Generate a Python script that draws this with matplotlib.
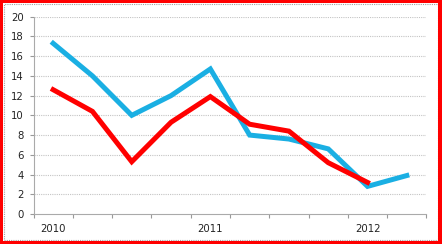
import numpy as np
import matplotlib.pyplot as plt
from matplotlib.patches import Rectangle

# quarterly values
blue_vals = [17.3, 14.0, 10.0, 12.0, 14.7, 8.0, 7.6, 6.6, 2.8, 3.9]
red_vals = [12.6, 10.4, 5.3, 9.3, 11.9, 9.1, 8.4, 5.2, 3.2]
year_labels = ["2010", "2011", "2012"]
year_pos = [0, 4, 8]
yticks = list(range(0, 21, 2))

W, H = 442, 244
fig = plt.figure(figsize=(W/100, H/100), dpi=100)
ax = fig.add_axes([33.5/W, 30/H, 393/W, 197.3/H])

ax.plot(range(len(blue_vals)), blue_vals, color="#1AAFE3", lw=3.6, solid_joinstyle="miter", zorder=3)
ax.plot(range(len(red_vals)), red_vals, color="#FF0000", lw=3.6, solid_joinstyle="miter", zorder=4)

ax.set_xlim(-0.5, 9.5)
ax.set_ylim(0, 20)
ax.set_yticks(yticks)
ax.set_yticklabels([str(v) for v in yticks])
for v in yticks[1:]:
    ax.axhline(v, color="#C4C4C4", lw=0.8, ls=(0, (1.0, 1.0)), zorder=1)

ax.set_xticks(np.arange(-0.5, 10, 1))
ax.set_xticklabels([])
ax.set_xticks(year_pos, minor=True)
ax.set_xticklabels(year_labels, minor=True)
ax.tick_params(axis="x", which="major", length=3, color="#999999", width=0.8)
ax.tick_params(axis="x", which="minor", length=0, pad=7, labelsize=7.3, labelcolor="#222222")
ax.tick_params(axis="y", length=3, color="#999999", width=0.8, labelsize=7.3, labelcolor="#222222", pad=4)

for s in ["top", "right"]:
    ax.spines[s].set_visible(False)
for s in ["left", "bottom"]:
    ax.spines[s].set_color("#AAAAAA")
    ax.spines[s].set_linestyle((0, (1.0, 1.0)))
    ax.spines[s].set_linewidth(0.8)

# outer frames: dotted gray chart border inside a red border
fig.patches.append(Rectangle((3.5/W, 4.5/H), 434/W, 236/H, transform=fig.transFigure,
                             fill=False, ec="#A0A0A0", lw=0.8, ls=(0, (1.0, 1.0))))
red = dict(transform=fig.transFigure, color="#FF0000", lw=0)
fig.patches.append(Rectangle((0, 0), 2.5/W, 1, **red))
fig.patches.append(Rectangle((0, 1 - 2.5/H), 1, 2.5/H, **red))
fig.patches.append(Rectangle((1 - 4.5/W, 0), 4.5/W, 1, **red))
fig.patches.append(Rectangle((0, 0), 1, 3.5/H, **red))

plt.savefig("out.png", dpi=100)
